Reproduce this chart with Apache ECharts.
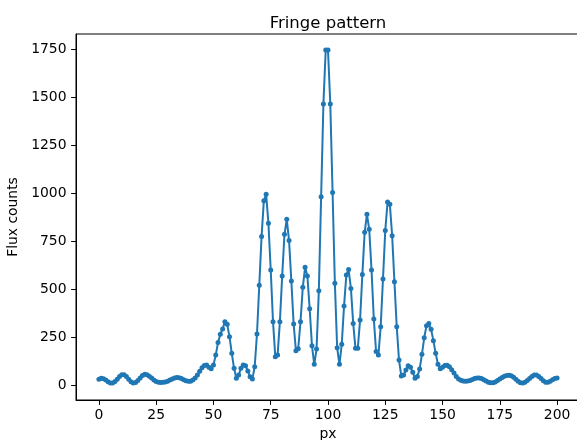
<!DOCTYPE html>
<html>
<head>
<meta charset="utf-8">
<script src="https://cdn.jsdelivr.net/npm/echarts@6/dist/echarts.min.js"></script>
<style>
html,body{margin:0;padding:0;background:#fff;overflow:hidden;width:577px;height:440px;}
#c{width:581px;height:440px;}
</style>
</head>
<body>
<div id="c"></div>
<script>
// Flux counts per px (px = 0..200)
const flux = [
  30, 35, 33, 26, 17, 11, 11, 18, 30, 44,
  53, 53, 44, 30, 17, 11, 13, 23, 37, 50,
  56, 54, 46, 36, 26, 18, 14, 13, 14, 16,
  20, 26, 32, 37, 39, 38, 34, 28, 22, 19,
  20, 26, 36, 52, 72, 90, 102, 104, 93, 85,
  104, 156, 222, 264, 292, 330, 316, 252, 165, 87,
  35, 52, 87, 104, 101, 73, 43, 31, 95, 266,
  519, 773, 960, 993, 842, 599, 330, 147, 156, 330,
  568, 785, 863, 752, 542, 318, 179, 189, 330, 509,
  613, 568, 397, 205, 108, 187, 491, 981, 1464, 1745,
  1745, 1464, 1003, 530, 194, 108, 212, 411, 573, 602,
  503, 321, 191, 191, 339, 576, 795, 889, 811, 599,
  344, 174, 156, 304, 552, 805, 953, 941, 778, 538,
  304, 130, 47, 52, 78, 101, 92, 66, 35, 45,
  83, 160, 246, 309, 321, 290, 231, 165, 108, 85,
  92, 102, 103, 95, 80, 62, 45, 32, 25, 21,
  20, 21, 24, 29, 34, 37, 37, 34, 28, 21,
  15, 12, 12, 16, 23, 31, 39, 46, 50, 51,
  48, 40, 30, 19, 12, 10, 14, 23, 34, 45,
  52, 52, 45, 34, 22, 15, 15, 20, 27, 34,
  37
];
const xTicks = [0, 25, 50, 75, 100, 125, 150, 175, 200];
const yTicks = [0, 250, 500, 750, 1000, 1250, 1500, 1750];
const titleText = 'Fringe pattern';
const xName = 'px';
const yName = 'Flux counts';

const font = 'DejaVu Sans';
const chart = echarts.init(document.getElementById('c'), null, {renderer: 'canvas'});
chart.setOption({
  animation: false,
  title: {
    text: titleText, left: 323, top: 10, textAlign: 'center',
    textStyle: {fontFamily: font, fontSize: 16.5, fontWeight: 'normal', color: '#000'}
  },
  grid: {left: 76, right: 1, top: 34, bottom: 40, show: true, borderColor: '#000', borderWidth: 1,
         containLabel: false, outerBoundsMode: 'none'},
  xAxis: {
    type: 'value', min: -10, max: 210,
    name: xName, nameLocation: 'middle', nameGap: 27,
    nameTextStyle: {fontFamily: font, fontSize: 13.9, color: '#000'},
    axisLine: {show: true, onZero: false, lineStyle: {color: '#000', width: 1}},
    axisTick: {show: true, length: 4.9, customValues: xTicks, lineStyle: {color: '#000'}},
    axisLabel: {customValues: xTicks, fontFamily: font, fontSize: 13.9, color: '#000', margin: 8,
                formatter: v => String(v)},
    splitLine: {show: false}
  },
  yAxis: {
    type: 'value', min: -78, max: 1828,
    name: yName, nameLocation: 'middle', nameGap: 51, nameRotate: 90,
    nameTextStyle: {fontFamily: font, fontSize: 13.9, color: '#000'},
    axisLine: {show: true, onZero: false, lineStyle: {color: '#000', width: 1}},
    axisTick: {show: true, length: 4.9, customValues: yTicks, lineStyle: {color: '#000'}},
    axisLabel: {customValues: yTicks, fontFamily: font, fontSize: 13.9, color: '#000', margin: 9.5,
                formatter: v => String(v)},
    splitLine: {show: false}
  },
  series: [{
    type: 'line',
    data: flux.map((v, i) => [i, v]),
    symbol: 'circle', symbolSize: 5, showSymbol: true,
    itemStyle: {color: '#1f77b4'},
    lineStyle: {color: '#1f77b4', width: 2},
    clip: false
  }]
});
</script>
</body>
</html>
